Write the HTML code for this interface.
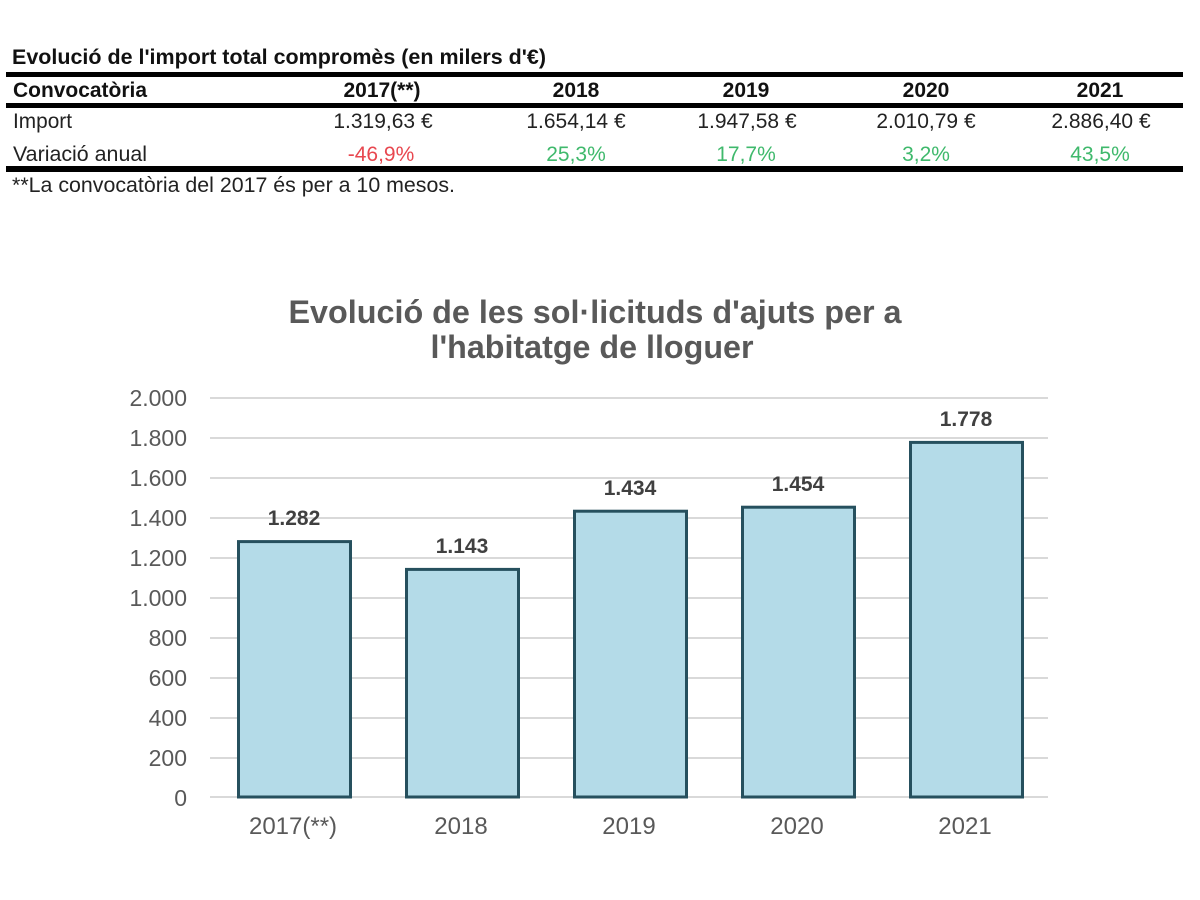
<!DOCTYPE html>
<html>
<head>
<meta charset="utf-8">
<style>
html,body{margin:0;padding:0;background:#fff;}
svg{display:block;}
text{font-family:"Liberation Sans",Arial,sans-serif;}
</style>
</head>
<body>
<svg width="1200" height="900" viewBox="0 0 1200 900" xmlns="http://www.w3.org/2000/svg">
<rect width="1200" height="900" fill="#fff"/>

<!-- Table -->
<text x="12" y="64" font-size="21" font-weight="bold" fill="#111" textLength="534" lengthAdjust="spacingAndGlyphs">Evolució de l'import total compromès (en milers d'€)</text>
<rect x="6" y="72" width="1177" height="5" fill="#000"/>
<rect x="6" y="103" width="1177" height="5" fill="#000"/>
<rect x="6" y="166" width="1177" height="6" fill="#000"/>

<g font-size="21" font-weight="bold" fill="#111">
<text x="13" y="97" textLength="134" lengthAdjust="spacingAndGlyphs">Convocatòria</text>
<text x="382" y="97" text-anchor="middle">2017(**)</text>
<text x="576" y="97" text-anchor="middle">2018</text>
<text x="746" y="97" text-anchor="middle">2019</text>
<text x="926" y="97" text-anchor="middle">2020</text>
<text x="1100" y="97" text-anchor="middle">2021</text>
</g>

<g font-size="21" fill="#222">
<text x="13" y="128" textLength="59" lengthAdjust="spacingAndGlyphs">Import</text>
<text x="383" y="128" text-anchor="middle">1.319,63 €</text>
<text x="576" y="128" text-anchor="middle">1.654,14 €</text>
<text x="747" y="128" text-anchor="middle">1.947,58 €</text>
<text x="926" y="128" text-anchor="middle">2.010,79 €</text>
<text x="1101" y="128" text-anchor="middle">2.886,40 €</text>
<text x="13" y="161" textLength="134" lengthAdjust="spacingAndGlyphs">Variació anual</text>
</g>
<g font-size="21">
<text x="381" y="161" text-anchor="middle" fill="#e8474f">-46,9%</text>
<text x="576" y="161" text-anchor="middle" fill="#3fb96c">25,3%</text>
<text x="746" y="161" text-anchor="middle" fill="#3fb96c">17,7%</text>
<text x="926" y="161" text-anchor="middle" fill="#3fb96c">3,2%</text>
<text x="1100" y="161" text-anchor="middle" fill="#3fb96c">43,5%</text>
</g>
<text x="12" y="192" font-size="21" fill="#222" textLength="443" lengthAdjust="spacingAndGlyphs">**La convocatòria del 2017 és per a 10 mesos.</text>

<!-- Chart title -->
<g font-size="32" font-weight="bold" fill="#595959" text-anchor="middle">
<text x="595" y="323" textLength="613" lengthAdjust="spacingAndGlyphs">Evolució de les sol·licituds d'ajuts per a</text>
<text x="592" y="358" textLength="323" lengthAdjust="spacingAndGlyphs">l'habitatge de lloguer</text>
</g>

<!-- Gridlines -->
<g stroke="#d9d9d9" stroke-width="2">
<line x1="210" y1="398" x2="1048" y2="398"/>
<line x1="210" y1="438" x2="1048" y2="438"/>
<line x1="210" y1="478" x2="1048" y2="478"/>
<line x1="210" y1="518" x2="1048" y2="518"/>
<line x1="210" y1="558" x2="1048" y2="558"/>
<line x1="210" y1="598" x2="1048" y2="598"/>
<line x1="210" y1="638" x2="1048" y2="638"/>
<line x1="210" y1="678" x2="1048" y2="678"/>
<line x1="210" y1="718" x2="1048" y2="718"/>
<line x1="210" y1="758" x2="1048" y2="758"/>
<line x1="210" y1="797" x2="1048" y2="797"/>
</g>

<!-- Y labels -->
<g font-size="23" fill="#595959" text-anchor="end">
<text x="187" y="406">2.000</text>
<text x="187" y="446">1.800</text>
<text x="187" y="486">1.600</text>
<text x="187" y="526">1.400</text>
<text x="187" y="566">1.200</text>
<text x="187" y="606">1.000</text>
<text x="187" y="646">800</text>
<text x="187" y="686">600</text>
<text x="187" y="726">400</text>
<text x="187" y="766">200</text>
<text x="187" y="806">0</text>
</g>

<!-- Bars -->
<g fill="#b4dbe8" stroke="#26505e" stroke-width="3">
<rect x="238.5" y="541.6" width="112" height="255.4"/>
<rect x="406.5" y="569.4" width="112" height="227.6"/>
<rect x="574.5" y="511.2" width="112" height="285.8"/>
<rect x="742.5" y="507.2" width="112" height="289.8"/>
<rect x="910.5" y="442.4" width="112" height="354.6"/>
</g>

<!-- Value labels -->
<g font-size="21" font-weight="bold" fill="#404040" text-anchor="middle">
<text x="294" y="525">1.282</text>
<text x="462" y="553">1.143</text>
<text x="630" y="495">1.434</text>
<text x="798" y="491">1.454</text>
<text x="966" y="426">1.778</text>
</g>

<!-- X labels -->
<g font-size="24" fill="#595959" text-anchor="middle">
<text x="293" y="834">2017(**)</text>
<text x="461" y="834">2018</text>
<text x="629" y="834">2019</text>
<text x="797" y="834">2020</text>
<text x="965" y="834">2021</text>
</g>
</svg>
</body>
</html>
